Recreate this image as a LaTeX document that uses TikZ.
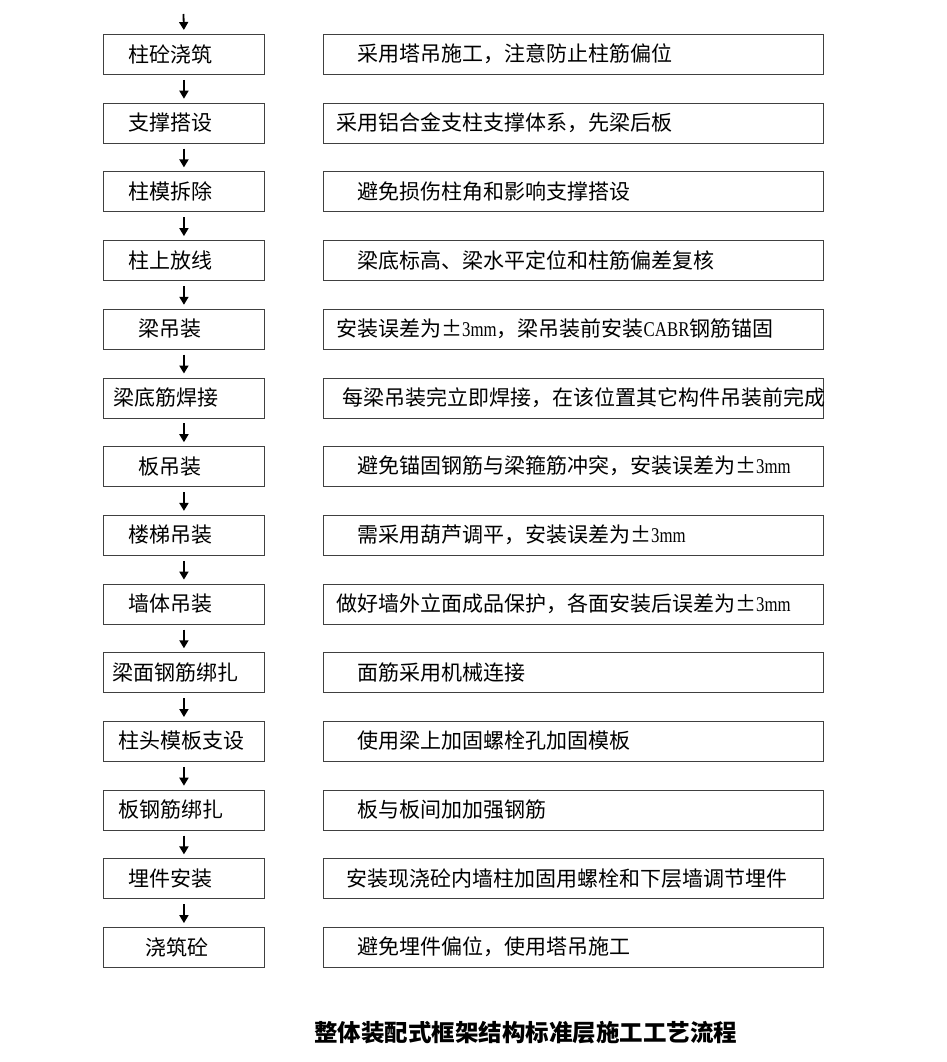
\documentclass[tikz,border=0pt]{standalone}
\usepackage{fontspec}
\newfontfamily\cjk{Noto Sans CJK SC}
\newfontfamily\latn[FakeStretch=0.8]{Liberation Serif}
\usetikzlibrary{arrows.meta}
\begin{document}
\begin{tikzpicture}[x=1pt,y=-1pt,
  lbox/.style={draw=black!75, line width=0.9pt, minimum width=161pt, minimum height=40pt, inner sep=0pt, anchor=north west},
  rbox/.style={draw=black!75, line width=0.9pt, minimum width=500pt, minimum height=40pt, inner sep=0pt, anchor=north west},
  txt/.style={anchor=west, inner sep=0pt, font=\cjk\fontsize{21}{24}\selectfont},
  ttl/.style={inner sep=0pt, font=\cjk\bfseries\fontsize{23.5}{28}\selectfont},
  flow/.style={line width=1.8pt, -{Triangle[width=9pt,length=8pt]}}]
\fill[white] (0,0) rectangle (946,1062);
\useasboundingbox (0,0) rectangle (946,1062);
\foreach \i/\lx/\lt/\rx/\rt in {
 1/128/柱砼浇筑/357/采用塔吊施工，注意防止柱筋偏位,
 2/128/支撑搭设/336/采用铝合金支柱支撑体系，先梁后板,
 3/128/柱模拆除/357/避免损伤柱角和影响支撑搭设,
 4/128/柱上放线/357/梁底标高、梁水平定位和柱筋偏差复核,
 5/138/梁吊装/336/安装误差为±{\latn 3mm}，梁吊装前安装{\latn CABR}钢筋锚固,
 6/113/梁底筋焊接/342/每梁吊装完立即焊接，在该位置其它构件吊装前完成,
 7/138/板吊装/357/避免锚固钢筋与梁箍筋冲突，安装误差为±{\latn 3mm},
 8/128/楼梯吊装/357/需采用葫芦调平，安装误差为±{\latn 3mm},
 9/128/墙体吊装/336/做好墙外立面成品保护，各面安装后误差为±{\latn 3mm},
 10/112/梁面钢筋绑扎/357/面筋采用机械连接,
 11/118/柱头模板支设/357/使用梁上加固螺栓孔加固模板,
 12/118/板钢筋绑扎/357/板与板间加加强钢筋,
 13/128/埋件安装/346/安装现浇砼内墙柱加固用螺栓和下层墙调节埋件,
 14/145/浇筑砼/357/避免埋件偏位，使用塔吊施工}{
  \pgfmathsetmacro\ty{34+68.7*(\i-1)}
  \pgfmathsetmacro\cy{\ty+20}
  \node[lbox] (L\i) at (103,\ty) {};
  \node[rbox] (R\i) at (323,\ty) {};
  \node[txt] (LT\i) at (\lx,\cy) {\lt};
  \node[txt] (RT\i) at (\rx,\cy) {\rt};
}
\coordinate (top) at (183.5,14);
\draw[flow, shorten >=4pt] (top) -- (L1.north);
\foreach \i [evaluate=\i as \j using int(\i+1)] in {1,...,13}{
  \draw[flow, shorten <=5pt, shorten >=4pt] (L\i.south) -- (L\j.north);
}
\node[ttl] (title) at (525.5,1033) {整体装配式框架结构标准层施工工艺流程};
\end{tikzpicture}
\end{document}
